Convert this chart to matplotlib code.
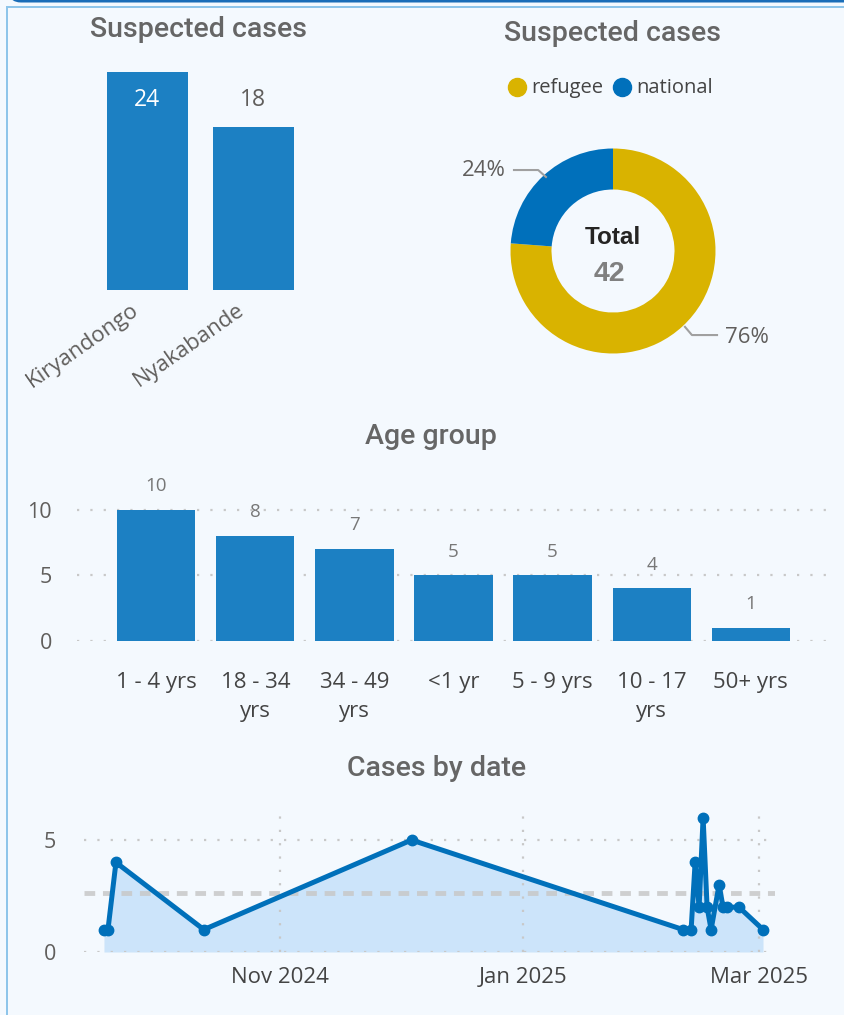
import matplotlib
matplotlib.use("Agg")
import matplotlib.pyplot as plt
from matplotlib.patches import FancyBboxPatch, Rectangle
import numpy as np
import pandas as pd

# ---------------- data ----------------
site_names = ["Kiryandongo", "Nyakabande"]
site_cases = [24, 18]

status_labels = ["refugee", "national"]
status_cases = [32, 10]
total_cases = 42

age_groups = ["1 - 4 yrs", "18 - 34\nyrs", "34 - 49\nyrs", "<1 yr", "5 - 9 yrs", "10 - 17\nyrs", "50+ yrs"]
age_cases = [10, 8, 7, 5, 5, 4, 1]

case_dates = ["2024-09-18", "2024-09-19", "2024-09-21", "2024-10-13", "2024-12-04",
              "2025-02-10", "2025-02-12", "2025-02-13", "2025-02-14", "2025-02-15",
              "2025-02-16", "2025-02-17", "2025-02-19", "2025-02-20", "2025-02-21",
              "2025-02-24", "2025-03-02"]
case_counts = [1, 1, 4, 1, 5, 1, 1, 4, 2, 6, 2, 1, 3, 2, 2, 2, 1]
avg_line_value = 2.65
date_ticks = ["2024-11-01", "2025-01-01", "2025-03-01"]
date_tick_labels = ["Nov 2024", "Jan 2025", "Mar 2025"]

# ---------------- style ----------------
W, H = 844, 1015
BG = "#F4F9FE"
BAR = "#1C80C3"
GOLD = "#D9B300"
NAVY = "#0070BB"
LINE = "#0070BA"
FILL = "#CCE4FA"
GRID = "#C8C8C8"
TXT = "#605E5C"
TITLE = "#666666"
LBL = "Open Sans"
TFONT = "Roboto"
PX = 0.72  # points per pixel at 100 dpi

fig = plt.figure(figsize=(W / 100, H / 100), dpi=100, facecolor=BG)


def ax_at(l, t, r, b):
    a = fig.add_axes([l / W, 1 - b / H, (r - l) / W, (b - t) / H])
    a.set_facecolor("none")
    for s in a.spines.values():
        s.set_visible(False)
    return a


# overlay for frame / titles
ov = fig.add_axes([0, 0, 1, 1])
ov.set_xlim(0, W)
ov.set_ylim(H, 0)
ov.axis("off")
ov.set_facecolor("none")
ov.add_patch(FancyBboxPatch((9, -30), 900, 32.5, boxstyle="round,pad=0,rounding_size=12",
                            facecolor="#1A6DB8", edgecolor="none"))
ov.add_patch(Rectangle((6, 6), W, 2, facecolor="#8EC5EA", edgecolor="none"))
ov.add_patch(Rectangle((5.5, 6), 2, H, facecolor="#8EC5EA", edgecolor="none"))


def title(x, y, s):
    ov.text(x, y, s, ha="center", va="center", fontsize=20.5, family=TFONT,
            fontweight="medium", color=TITLE)


title(199, 29, "Suspected cases")
title(613, 33, "Suspected cases")
title(431, 436, "Age group")
title(437, 769, "Cases by date")

# ---------------- chart 1: sites ----------------
a1 = ax_at(80.7, 72, 320, 290)
x1 = np.arange(len(site_names))
a1.bar(x1, site_cases, width=0.764, color=BAR)
a1.set_xlim(-0.63, 1.63)
a1.set_ylim(0, max(site_cases))
a1.set_yticks([])
a1.set_xticks([])
for xi, name in zip(x1, site_names):
    a1.annotate(name, (xi, 0), xytext=(-17 * PX, -9 * PX), textcoords="offset points",
                rotation=35, rotation_mode="anchor", ha="right", va="top",
                fontsize=16, family=LBL, color=TXT, annotation_clip=False)
for xi, v in zip(x1, site_cases):
    if v == max(site_cases):
        a1.annotate(str(v), (xi, v), xytext=(0, -28 * PX), textcoords="offset points",
                    ha="center", va="center", fontsize=16.5, family=LBL, color="white")
    else:
        a1.annotate(str(v), (xi, v), xytext=(0, 26 * PX), textcoords="offset points",
                    ha="center", va="center", fontsize=16.5, family=LBL, color=TXT)

# ---------------- chart 2: donut ----------------
cx, cy, R = 613, 251, 102.5
half = 150
a2 = ax_at(cx - half, cy - half, cx + half, cy + half)
k = half / R
a2.pie(status_cases, colors=[GOLD, NAVY], startangle=90, counterclock=False, radius=1,
       wedgeprops=dict(width=0.4, edgecolor="none"))
a2.set_xlim(-k, k)
a2.set_ylim(-k, k)
a2.set_aspect("equal")
pct = [v / sum(status_cases) * 100 for v in status_cases]
a2.plot([-0.966, -0.73, -0.654], [0.79, 0.79, 0.722], color="#A0A0A0", lw=1.5)
a2.text(-1.05, 0.79, f"{pct[1]:.0f}%", ha="right", va="center", fontsize=16, family=LBL, color=TXT)
a2.plot([0.702, 0.77, 1.015], [-0.74, -0.82, -0.82], color="#A0A0A0", lw=1.5)
a2.text(1.09, -0.846, f"{pct[0]:.0f}%", ha="left", va="center", fontsize=16, family=LBL, color=TXT)
a2.text(0, 0.13, "Total", ha="center", va="center", fontsize=17.5, family="Liberation Sans",
        fontweight="bold", color="#252423")
a2.text(-0.03, -0.22, str(total_cases), ha="center", va="center", fontsize=20.5,
        family="Liberation Sans", fontweight="bold", color="#808080")

# legend
ov.plot([517], [87], "o", ms=13, color=GOLD)
ov.text(531, 88, status_labels[0], ha="left", va="center", fontsize=14.5, family=LBL, color="#444444")
ov.plot([622], [87], "o", ms=13, color=NAVY)
ov.text(636, 88, status_labels[1], ha="left", va="center", fontsize=14.5, family=LBL, color="#444444")

# ---------------- chart 3: age groups ----------------
a3 = ax_at(77, 469, 830, 641)
x3 = np.arange(len(age_groups))
a3.bar(x3, age_cases, width=0.79, color=BAR, zorder=2)
a3.set_xlim(-0.8, 6.8)
a3.set_ylim(0, 13.1)
a3.set_yticks([0, 5, 10])
a3.yaxis.grid(True, color=GRID, linestyle=(0, (1, 5)), lw=1.6, zorder=0)
a3.tick_params(axis="y", length=0, pad=18, labelsize=15.5, labelcolor=TXT)
for lab in a3.get_yticklabels():
    lab.set_family(LBL)
a3.set_xticks(x3)
a3.set_xticklabels(age_groups, fontsize=16, family=LBL, color="#444444", linespacing=1.55)
a3.tick_params(axis="x", length=0, pad=22)
for xi, v in zip(x3, age_cases):
    a3.annotate(str(v), (xi, v), xytext=(0, 17), textcoords="offset points",
                ha="center", va="center", fontsize=13.5, family=LBL, color="#777777")

# ---------------- chart 4: line ----------------
d = pd.to_datetime(case_dates)
a4 = ax_at(84, 812, 775, 952)
a4.fill_between(d, case_counts, 0, color=FILL, lw=0, zorder=1)
a4.plot(d, case_counts, color=LINE, lw=3.6, marker="o", ms=7.5, zorder=3,
        solid_joinstyle="round")
a4.axhline(avg_line_value, color="#C8C8C8", lw=3.5, linestyle=(0, (2.2, 1.6)), zorder=2, alpha=0.85)
a4.set_xlim(pd.Timestamp("2024-09-13"), pd.Timestamp("2025-03-05"))
a4.set_ylim(0, 6.25)
a4.set_yticks([0, 5])
a4.set_xticks(pd.to_datetime(date_ticks))
a4.set_xticklabels(date_tick_labels, fontsize=16, family=LBL, color="#444444")
a4.grid(True, color=GRID, linestyle=(0, (1, 5)), lw=1.6, zorder=0)
a4.tick_params(axis="y", length=0, pad=20, labelsize=15.5, labelcolor=TXT)
for lab in a4.get_yticklabels():
    lab.set_family(LBL)
a4.tick_params(axis="x", length=0, pad=11)

fig.savefig("out.png", dpi=100, facecolor=BG)
